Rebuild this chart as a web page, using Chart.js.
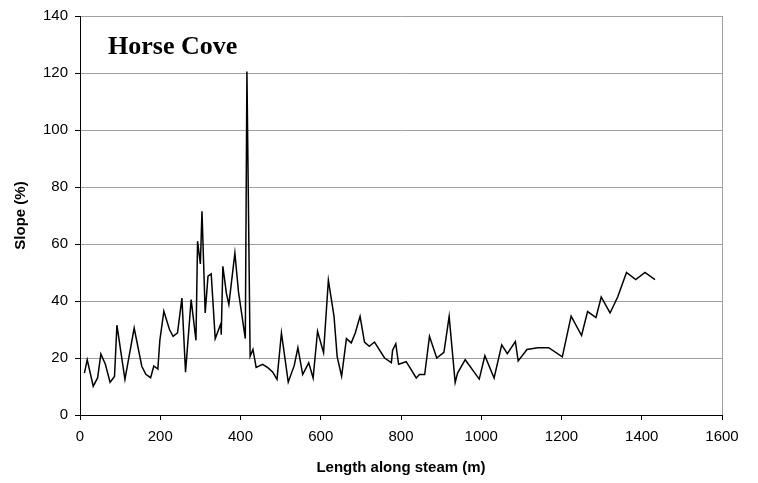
<!DOCTYPE html>
<html>
<head>
<meta charset="utf-8">
<script src="https://cdn.jsdelivr.net/npm/chart.js@4"></script>
<style>
  body { margin: 0; background: #fff; }
  #wrap { width: 758px; height: 483px; position: relative; }
</style>
</head>
<body>
<div id="wrap"><canvas id="myChart"></canvas></div>
<script>
// Length along stream (m)
const lengths = [
  11, 18, 33, 44, 52, 63, 75, 86, 92, 112, 135, 154, 164, 176, 184, 194, 199,
  209, 223, 232, 243, 254, 263, 277, 289, 293, 300, 304, 312, 319, 327, 337,
  351, 352, 356, 365, 371, 386, 395, 412, 416, 424, 431, 439, 455, 468, 480,
  491, 502, 519, 534, 543, 555, 570, 581, 592, 607, 619, 633, 641, 652, 664,
  676, 686, 698, 709, 721, 734, 759, 776, 779, 787, 794, 813, 838, 846, 859,
  871, 889, 907, 920, 935, 941, 960, 995, 1009, 1032, 1051, 1065, 1085, 1092,
  1114, 1141, 1168, 1202, 1224, 1250, 1265, 1286, 1299, 1321, 1340, 1362,
  1385, 1408, 1433,
];
// Slope (%)
const slopes = [
  14.7, 19.4, 10.1, 13.1, 21.4, 17.9, 11.5, 13.5, 31.5, 12.5, 30.5, 17.1, 14.3,
  13.1, 17.2, 16.1, 26.2, 36.4, 30, 27.6, 28.8, 41, 15, 40.5, 26.2, 61, 53,
  71.5, 35.8, 48.7, 49.5, 26.8, 32, 28.2, 52.2, 42.6, 38.8, 56.8, 43.2, 26.8,
  120.5, 20.6, 23, 16.7, 17.8, 16.6, 15.1, 12.5, 28.8, 11.5, 17.4, 23.6, 14.2,
  18.3, 13, 29.4, 21.9, 47.3, 34.7, 20.4, 13.6, 26.8, 25.3, 28.8, 34.6, 25.6,
  24.1, 25.6, 20, 18.4, 22.7, 25, 17.8, 18.7, 13, 14.2, 14.2, 27.6, 20, 22,
  34.6, 11.4, 14.7, 19.4, 12.6, 20.8, 13, 24.6, 21.5, 25.8, 19, 23, 23.6, 23.6,
  20.4, 34.7, 27.9, 36.3, 34.2, 41.4, 35.8, 41.4, 50, 47.5, 50, 47.5,
];
const xTicks = [0, 200, 400, 600, 800, 1000, 1200, 1400, 1600];
const yTicks = [0, 20, 40, 60, 80, 100, 120, 140];
const chartLabel = "Horse Cove";

document.addEventListener("DOMContentLoaded", function () {
  const ctx = document.getElementById("myChart").getContext("2d");
  const tickFont = { family: "Liberation Sans, Arial", size: 15 };
  const titleFont = { family: "Liberation Sans, Arial", size: 15, weight: "bold" };

  // borde derecho gris y etiqueta dentro del area
  const extras = {
    id: "extras",
    afterDraw(chart) {
      const a = chart.chartArea;
      const c = chart.ctx;
      c.save();
      c.strokeStyle = "#a0a0a0";
      c.lineWidth = 1;
      c.beginPath();
      c.moveTo(a.right + 0.5, a.top);
      c.lineTo(a.right + 0.5, a.bottom);
      c.stroke();
      c.fillStyle = "#000";
      c.font = "bold 26px 'Liberation Serif', 'Times New Roman'";
      c.textBaseline = "alphabetic";
      c.fillText(chartLabel, a.left + 28, a.top + 38);
      c.restore();
    },
  };

  new Chart(ctx, {
    type: "scatter",
    data: {
      datasets: [
        {
          data: lengths.map((x, i) => ({ x: x, y: slopes[i] })),
          showLine: true,
          borderColor: "#000",
          borderWidth: 1.5,
          pointRadius: 0,
          tension: 0,
        },
      ],
    },
    options: {
      responsive: true,
      maintainAspectRatio: false,
      animation: false,
      layout: { padding: { top: 16, right: 36, left: 0, bottom: 0 } },
      plugins: { legend: { display: false }, tooltip: { enabled: false } },
      scales: {
        x: {
          type: "linear",
          min: xTicks[0],
          max: xTicks[xTicks.length - 1],
          afterBuildTicks: (s) => { s.ticks = xTicks.map((v) => ({ value: v })); },
          afterFit: (s) => { s.height = 68; },
          grid: { drawOnChartArea: false, tickLength: 5, tickColor: "#000" },
          border: { color: "#000", width: 1 },
          ticks: {
            color: "#000",
            font: tickFont,
            padding: 8,
            maxRotation: 0,
            callback: (v) => String(v),
          },
          title: {
            display: true,
            text: "Length along steam (m)",
            color: "#000",
            font: titleFont,
            padding: { top: 0, bottom: 6 },
          },
        },
        y: {
          min: yTicks[0],
          max: yTicks[yTicks.length - 1],
          afterBuildTicks: (s) => { s.ticks = yTicks.map((v) => ({ value: v })); },
          afterFit: (s) => { s.width = 80; },
          grid: { color: "#a0a0a0", tickLength: 5, tickColor: "#000" },
          border: { color: "#000", width: 1 },
          ticks: { color: "#000", font: tickFont, padding: 7, callback: (v) => String(v) },
          title: {
            display: true,
            text: "Slope (%)",
            color: "#000",
            font: titleFont,
            padding: { top: 12, bottom: 0 },
          },
        },
      },
    },
    plugins: [extras],
  });
});
</script>
</body>
</html>
